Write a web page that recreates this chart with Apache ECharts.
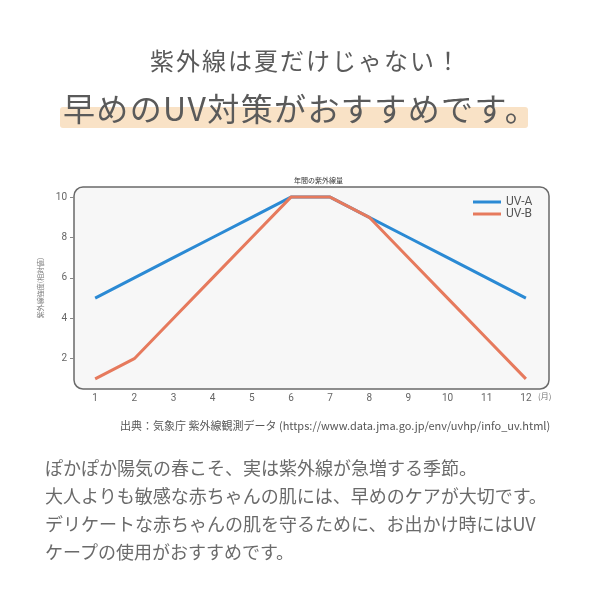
<!DOCTYPE html>
<html>
<head>
<meta charset="utf-8">
<script src="https://cdn.jsdelivr.net/npm/echarts@6/dist/echarts.min.js"></script>
<style>
  html, body { margin: 0; padding: 0; background: #fff; }
  #wrap { position: relative; width: 600px; height: 600px; overflow: hidden; font-family: "Noto Sans CJK JP", sans-serif; }
  #chart { position: absolute; left: 0; top: 0; width: 600px; height: 600px; }
  .txt { position: absolute; white-space: nowrap; }
  #head1 { left: 0; width: 612px; text-align: center; top: 48px; font-size: 24px; line-height: 24px; letter-spacing: 2px; color: #5a5a5a; }
  #mark { left: 60px; top: 107px; width: 468px; height: 21px; background: #f9e2c6; border-radius: 3px; }
  #head2 { left: 0; width: 601px; text-align: center; top: 91px; font-size: 32px; line-height: 32px; letter-spacing: 1.4px; color: #5a5a5a; }
  #source { left: 120px; top: 418px; font-size: 11px; line-height: 14px; color: #555; }
  #body { left: 45px; top: 453px; font-size: 18px; line-height: 28px; color: #6a6a6a; }
</style>
</head>
<body>
<div id="wrap">
  <div id="chart"></div>
  <div class="txt" id="head1">紫外線は夏だけじゃない！</div>
  <div class="txt" id="mark"></div>
  <div class="txt" id="head2">早めのUV対策がおすすめです。</div>
  <div class="txt" id="source">出典：気象庁 紫外線観測データ (https://www.data.jma.go.jp/env/uvhp/info_uv.html)</div>
  <div class="txt" id="body">ぽかぽか陽気の春こそ、実は紫外線が急増する季節。<br>大人よりも敏感な赤ちゃんの肌には、早めのケアが大切です。<br>デリケートな赤ちゃんの肌を守るために、お出かけ時にはUV<br>ケープの使用がおすすめです。</div>
</div>
<script>
var months = [1, 2, 3, 4, 5, 6, 7, 8, 9, 10, 11, 12];
var uvA = [5, 6, 7, 8, 9, 10, 10, 9, 8, 7, 6, 5];
var uvB = [1, 2, 4, 6, 8, 10, 10, 9, 7, 5, 3, 1];
var yTicks = [2, 4, 6, 8, 10];

function pairs(values) {
    return months.map(function (m, i) {
        return [m, values[i]];
    });
}

var myChart = echarts.init(document.getElementById('chart'));

var option = {
    backgroundColor: 'transparent',
    textStyle: { fontFamily: 'Roboto, "Noto Sans CJK JP", sans-serif' },
    title: {
        text: '年間の紫外線量',
        left: 289,
        top: 172,
        textStyle: { fontSize: 7, fontWeight: 'normal', color: '#333', fontFamily: '"Noto Sans CJK JP"' }
    },
    legend: {
        orient: 'vertical',
        left: 468,
        top: 191,
        icon: 'rect',
        itemWidth: 28,
        itemHeight: 3,
        itemGap: 0,
        textStyle: { fontSize: 12, color: '#555', lineHeight: 12 },
        data: ['UV-A', 'UV-B']
    },
    grid: {
        left: 74,
        right: 51,
        top: 187,
        bottom: 211
    },
    graphic: [
        {
            type: 'rect',
            z: -1,
            shape: { x: 74, y: 187, width: 475, height: 202, r: 9 },
            style: { fill: '#f7f7f7', stroke: '#6a6a6a', lineWidth: 1.5 }
        },
        {
            type: 'text',
            x: 538,
            y: 392,
            style: { text: '(月)', fontSize: 8, fill: '#777', fontFamily: '"Noto Sans CJK JP"' }
        }
    ],
    xAxis: {
        type: 'value',
        min: 0.46,
        max: 12.59,
        axisLine: { show: false },
        axisTick: { show: false },
        splitLine: { show: false },
        axisLabel: { customValues: months, fontSize: 10, color: '#666', margin: 4 }
    },
    yAxis: {
        type: 'value',
        min: 0.5,
        max: 10.5,
        name: '紫外線強度(相対値)',
        nameLocation: 'middle',
        nameGap: 30,
        nameTextStyle: { fontSize: 7, color: '#777', fontFamily: '"Noto Sans CJK JP"' },
        axisLine: { show: false },
        axisTick: { show: true, length: 4, customValues: yTicks, lineStyle: { color: '#888' } },
        splitLine: { show: false },
        axisLabel: { customValues: yTicks, fontSize: 10, color: '#666', margin: 7 }
    },
    series: [
        {
            name: 'UV-A',
            type: 'line',
            symbol: 'none',
            color: '#2b8ad4',
            lineStyle: { width: 3 },
            data: pairs(uvA)
        },
        {
            name: 'UV-B',
            type: 'line',
            symbol: 'none',
            color: '#e67a5d',
            lineStyle: { width: 3 },
            data: pairs(uvB)
        }
    ]
};
myChart.setOption(option);
</script>
</body>
</html>
